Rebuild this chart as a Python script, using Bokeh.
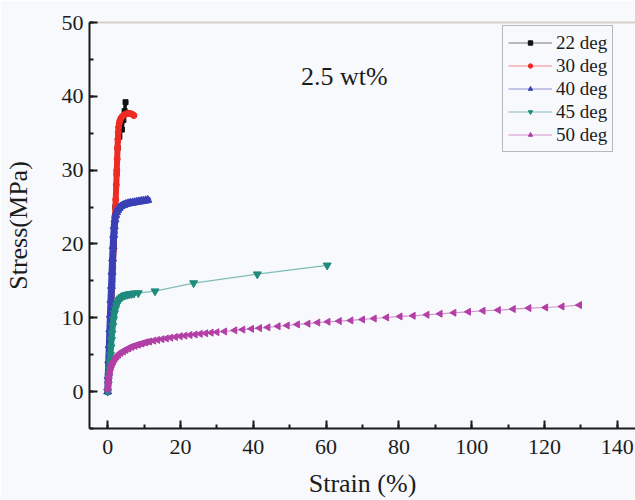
import math
from bokeh.plotting import figure
from bokeh.models import (Range1d, SingleIntervalTicker, LinearAxis, FixedTicker,
                          Legend, LegendItem, Label)
from bokeh.embed import file_html
from bokeh.resources import INLINE

# ---------------- data ----------------
labels = ["22 deg", "30 deg", "40 deg", "45 deg", "50 deg"]

strain_22 = [0, 0.4, 0.85, 1.25, 1.7, 2.1, 2.45, 2.75, 3.2, 3.9, 4.3, 4.65, 4.9]
stress_22 = [0, 5, 10, 15, 20, 25, 29.5, 33, 34.5, 35.5, 36.8, 38.0, 39.2]

strain_30 = [0, 0.2, 0.4, 0.6, 0.8, 1.0, 1.2, 1.4, 1.6, 1.8, 2.0, 2.2, 2.35, 2.5, 2.6,
             2.7, 2.8, 2.9, 3.0, 3.15, 3.35, 3.6, 3.9, 4.3, 4.8, 5.3, 5.8, 6.3, 6.8, 7.2]
stress_30 = [0, 2.4, 4.8, 7.2, 9.6, 12.0, 14.4, 16.8, 19.2, 21.5, 23.8, 26.0, 28.0, 30.0, 31.5,
             33.0, 34.2, 35.1, 35.8, 36.3, 36.7, 37.0, 37.2, 37.4, 37.55, 37.65, 37.7, 37.65, 37.55, 37.4]

strain_40 = [0, 0.15, 0.3, 0.45, 0.6, 0.75, 0.9, 1.05, 1.2, 1.35, 1.5, 1.65, 1.8, 2.0, 2.2,
             2.45, 2.75, 3.1, 3.5, 4.0, 4.5, 5.0, 5.6, 6.2, 6.8, 7.4, 8.0, 8.6, 9.2, 9.8, 10.4, 11.0]
stress_40 = [0, 2.1, 4.2, 6.3, 8.4, 10.4, 12.4, 14.3, 16.2, 18.0, 19.7, 21.2, 22.4, 23.3, 23.9,
             24.3, 24.6, 24.85, 25.05, 25.2, 25.3, 25.4, 25.5, 25.55, 25.6, 25.65, 25.7, 25.75, 25.8, 25.85, 25.9, 25.95]

strain_45 = [0, 0.15, 0.3, 0.45, 0.6, 0.75, 0.9, 1.05, 1.2, 1.4, 1.6, 1.85, 2.1, 2.4, 2.75,
             3.1, 3.5, 4.0, 4.5, 5.0, 5.5, 6.0, 6.6, 7.2, 8.4, 13.0, 23.6, 41.1, 60.3]
stress_45 = [0, 1.0, 2.0, 3.0, 4.0, 5.0, 6.0, 7.0, 7.9, 8.9, 9.8, 10.6, 11.2, 11.7, 12.1,
             12.4, 12.65, 12.85, 13.0, 13.1, 13.15, 13.2, 13.25, 13.3, 13.35, 13.6, 14.7, 15.9, 17.1]

strain_50 = [0, 0.2, 0.4, 0.6, 0.9, 1.2, 1.6, 2.0, 2.5, 3.0, 3.6, 4.3, 5.0, 5.8, 6.6,
             7.5, 8.4, 9.4, 10.4, 11.5, 12.6, 13.7, 14.9, 16.1, 17.3, 18.6, 19.9, 21.2, 22.6, 24.0,
             25.4, 26.9, 28.4, 30.0, 32.1, 34.9, 37.1, 39.5, 41.7, 44.0, 46.8, 49.3, 52.1, 55.0, 57.7,
             60.5, 63.6, 66.8, 70.0, 73.2, 76.6, 80.3, 83.9, 87.7, 91.3, 95.1, 99.1, 103.1, 107.3, 111.4,
             115.7, 120.3, 124.8, 129.6]
stress_50 = [0.3, 1.2, 2.0, 2.7, 3.3, 3.7, 4.1, 4.45, 4.75, 5.0, 5.25, 5.45, 5.65, 5.85, 6.05,
             6.2, 6.35, 6.5, 6.65, 6.78, 6.9, 7.0, 7.1, 7.2, 7.3, 7.4, 7.5, 7.58, 7.66, 7.74,
             7.82, 7.9, 7.98, 8.05, 8.15, 8.3, 8.4, 8.5, 8.6, 8.7, 8.85, 8.95, 9.1, 9.2, 9.35,
             9.46, 9.55, 9.64, 9.77, 9.9, 10.04, 10.18, 10.27, 10.41, 10.54, 10.68, 10.81, 10.95, 11.04, 11.18,
             11.31, 11.39, 11.53, 11.72]

annotation_text = "2.5 wt%"
x_label = "Strain (%)"
y_label = "Stress(MPa)"

# ---------------- style ----------------
FONT = "Liberation Serif"
BG = "#f7f9fc"
TXT = "#1c1c1c"

series = [
    # x, y, color, marker, marker size, angle, thick width, n dense points
    (strain_22, stress_22, "#111111", "square", 5, 0, 3.5, len(strain_22)),
    (strain_30, stress_30, "#ee2b24", "circle", 6, 0, 6, len(strain_30)),
    (strain_40, stress_40, "#3a40b5", "triangle", 8, 0, 7, len(strain_40)),
    (strain_45, stress_45, "#1f8b7d", "inverted_triangle", 8, 0, 6, 24),
    (strain_50, stress_50, "#b23fa6", "triangle", 7, math.pi / 2, 6, 20),
]

p = figure(width=635, height=500, x_range=Range1d(-5, 145), y_range=Range1d(-5, 50),
           output_backend="svg", toolbar_location=None,
           min_border_left=88, min_border_right=0, min_border_top=22, min_border_bottom=72,
           x_axis_label=x_label, y_axis_label=y_label)
p.background_fill_color = BG
p.border_fill_color = BG
p.outline_line_color = None
p.xgrid.visible = False
p.ygrid.visible = False

for ax, interval in ((p.xaxis[0], 20), (p.yaxis[0], 10)):
    ax.ticker = SingleIntervalTicker(interval=interval, num_minor_ticks=2)
    ax.axis_line_color = "#1a1a1a"
    ax.axis_line_width = 2
    ax.major_tick_line_color = "#1a1a1a"
    ax.major_tick_line_width = 2
    ax.major_tick_in = 8
    ax.major_tick_out = 0
    ax.minor_tick_line_color = "#1a1a1a"
    ax.minor_tick_line_width = 2
    ax.minor_tick_in = 4
    ax.minor_tick_out = 0
    ax.major_label_text_font = FONT
    ax.major_label_text_font_size = "22px"
    ax.major_label_text_color = TXT
    ax.axis_label_text_font = FONT
    ax.axis_label_text_font_size = "26px"
    ax.axis_label_text_font_style = "normal"
    ax.axis_label_text_color = TXT
p.yaxis[0].major_label_standoff = 6
p.yaxis[0].axis_label_standoff = 26
p.xaxis[0].major_label_standoff = 11
p.xaxis[0].axis_label_standoff = 12

top = LinearAxis(ticker=FixedTicker(ticks=[], minor_ticks=[]), axis_line_color="#d8cfca",
                 axis_line_width=2, major_tick_line_color=None, minor_tick_line_color=None,
                 major_label_text_font_size="0px")
p.add_layout(top, "above")

items = []
for (xs, ys, color, marker, msize, ang, thick, ndense), lab in zip(series, labels):
    p.line(xs[:ndense], ys[:ndense], line_color=color, line_width=thick, line_cap="round")
    thin = p.line(xs, ys, line_color=color, line_width=1.2, line_alpha=0.55)
    sc = p.scatter(xs, ys, marker=marker, size=msize, angle=ang,
                   fill_color=color, line_color=color)
    items.append(LegendItem(label=lab, renderers=[thin, sc]))

legend = Legend(items=items, location=(413, 276), orientation="vertical")
legend.label_text_font = FONT
legend.label_text_font_size = "19px"
legend.label_text_color = TXT
legend.glyph_width = 44
legend.glyph_height = 11
legend.label_height = 23
legend.label_standoff = 4
legend.spacing = 0
legend.padding = 5
legend.margin = 0
legend.border_line_color = "#777777"
legend.border_line_width = 1.5
legend.background_fill_color = BG
legend.background_fill_alpha = 1
p.add_layout(legend)

p.add_layout(Label(x=65, y=42.7, text=annotation_text, text_font=FONT, text_font_size="26px",
                   text_color=TXT, text_align="center", text_baseline="middle"))

open("out.html", "w").write(file_html(p, INLINE))
